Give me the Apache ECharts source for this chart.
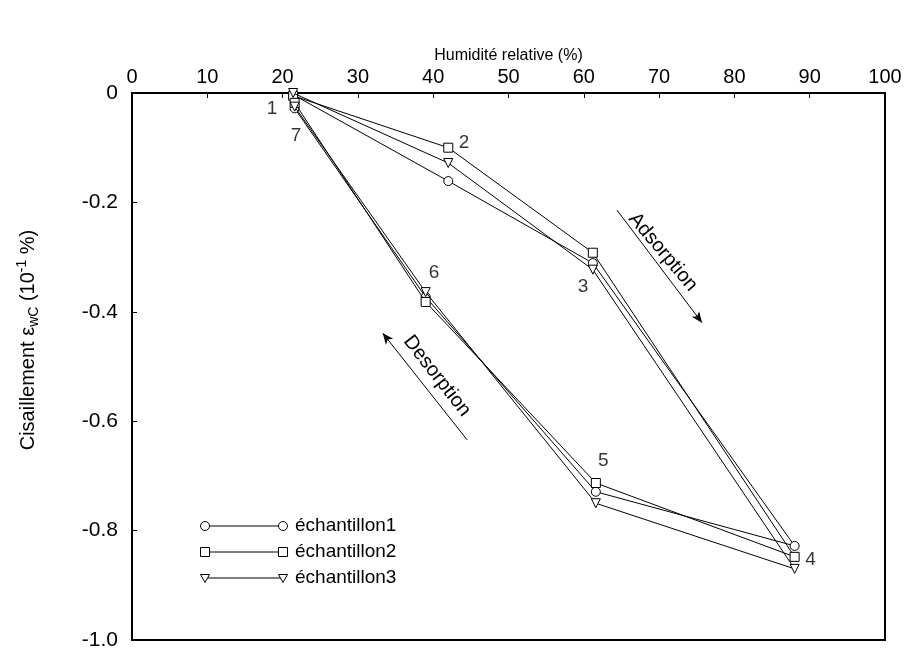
<!DOCTYPE html>
<html>
<head>
<meta charset="utf-8">
<script src="https://cdn.jsdelivr.net/npm/echarts@6/dist/echarts.min.js"></script>
<style>html,body{margin:0;padding:0;background:#fff;}#c{width:908px;height:652px;}</style>
</head>
<body>
<div id="c"></div>
<script>
// Humidity (x) for the 7 steps of the cycle
const humidity = [21.4, 42, 61.2, 88, 61.6, 39, 21.6];
// Shear strain values per sample
const echantillon1 = [-0.003, -0.161, -0.311, -0.828, -0.729, -0.373, -0.028];
const echantillon2 = [-0.005, -0.100, -0.292, -0.848, -0.713, -0.382, -0.018];
const echantillon3 = [0.000, -0.128, -0.323, -0.870, -0.750, -0.364, -0.025];
const seriesNames = ['échantillon1', 'échantillon2', 'échantillon3'];
// Step labels (text, x, y) in data units
const stepLabels = ['1', '2', '3', '4', '5', '6', '7'];
const stepLabelX = [18.6, 44.1, 59.9, 90.1, 62.6, 40.1, 21.8];
const stepLabelY = [-0.028, -0.091, -0.355, -0.853, -0.672, -0.329, -0.079];
// Arrows (data units)
const adsorptionArrow = [[64.4, -0.214], [75.7, -0.420]];
const desorptionArrow = [[44.5, -0.634], [33.3, -0.439]];
const xTicks = [0, 10, 20, 30, 40, 50, 60, 70, 80, 90, 100];
const yTicks = [0, -0.2, -0.4, -0.6, -0.8, -1.0];

const FONT = '"Liberation Sans", Arial, sans-serif';
const chart = echarts.init(document.getElementById('c'));

function pts(vals) { return vals.map((v, i) => [humidity[i], v]); }
const symbols = ['circle', 'rect', 'triangle'];
const rotates = [0, 0, 180];
const allVals = [echantillon1, echantillon2, echantillon3];

const series = allVals.map((vals, k) => ({
  name: seriesNames[k],
  type: 'line',
  data: pts(vals),
  symbol: symbols[k],
  symbolRotate: rotates[k],
  symbolSize: 9,
  showAllSymbol: true,
  lineStyle: { color: '#000', width: 1 },
  itemStyle: { color: '#fff', borderColor: '#000', borderWidth: 1 },
  z: 3 + k,
  animation: false
}));

series.push({
  type: 'line',
  data: [],
  silent: true,
  markLine: {
    silent: true,
    animation: false,
    lineStyle: { color: '#000', width: 1, type: 'solid' },
    label: { show: false },
    symbolSize: [7, 11],
    data: [
      [{ coord: adsorptionArrow[0], symbol: 'none' }, { coord: adsorptionArrow[1], symbol: 'arrow' }],
      [{ coord: desorptionArrow[0], symbol: 'none' }, { coord: desorptionArrow[1], symbol: 'arrow' }]
    ]
  }
});

series.push({
  type: 'scatter',
  data: stepLabels.map((t, i) => ({ name: t, value: [stepLabelX[i], stepLabelY[i]] })),
  symbolSize: 0,
  silent: true,
  animation: false,
  label: {
    show: true, position: 'inside', formatter: p => p.name,
    color: '#000', fontSize: 19, fontFamily: FONT
  },
  z: 10
});

const legendRowsY = [526, 552, 578];
const legendGraphics = [];
legendRowsY.forEach((y, k) => {
  const x1 = 205, x2 = 283;
  legendGraphics.push({ type: 'line', shape: { x1, y1: y, x2, y2: y }, style: { stroke: '#000', lineWidth: 1 } });
  [x1, x2].forEach(x => {
    let el;
    if (k === 0) el = { type: 'circle', shape: { cx: x, cy: y, r: 4.5 } };
    else if (k === 1) el = { type: 'rect', shape: { x: x - 4.5, y: y - 4.5, width: 9, height: 9 } };
    else el = { type: 'polygon', shape: { points: [[x - 4.5, y - 3.5], [x + 4.5, y - 3.5], [x, y + 4.5]] } };
    el.style = { fill: '#fff', stroke: '#000', lineWidth: 1 };
    el.z = 20;
    legendGraphics.push(el);
  });
  legendGraphics.push({
    type: 'text', x: 295, y: y, z: 20,
    style: { text: seriesNames[k], font: '19px ' + FONT, fill: '#000', verticalAlign: 'middle', textAlign: 'left' }
  });
});

chart.setOption({
  animation: false,
  backgroundColor: '#fff',
  grid: { left: 132, right: 23, top: 93, bottom: 12, show: true, borderColor: '#000', borderWidth: 2, backgroundColor: 'transparent' },
  xAxis: {
    type: 'value', position: 'top', min: 0, max: 100, interval: 10,
    name: 'Humidité relative (%)', nameLocation: 'middle', nameGap: 29, nameMoveOverlap: false,
    nameTextStyle: { fontSize: 16, fontFamily: FONT, color: '#000' },
    axisLine: { show: true, lineStyle: { color: '#000', width: 2 } },
    axisTick: { show: true, inside: true, length: 5, lineStyle: { color: '#000' } },
    axisLabel: { fontSize: 20, fontFamily: FONT, color: '#000', margin: 6,
      formatter: v => xTicks.includes(v) ? String(v) : '' },
    splitLine: { show: false }
  },
  yAxis: {
    type: 'value', min: -1.0, max: 0, interval: 0.2,
    axisLine: { show: true, lineStyle: { color: '#000', width: 2 } },
    axisTick: { show: true, inside: true, length: 5, lineStyle: { color: '#000' } },
    axisLabel: { fontSize: 21, fontFamily: FONT, color: '#000', margin: 14,
      formatter: v => { const t = yTicks.find(a => Math.abs(a - v) < 1e-6); return t === undefined ? '' : (Math.abs(t) < 1e-9 ? '0' : t.toFixed(1)); } },
    splitLine: { show: false }
  },
  graphic: [
    {
      type: 'text', x: 28, y: 340, rotation: Math.PI / 2,
      style: {
        text: 'Cisaillement ε{sub|wC} (10{sup|-1} %)',
        font: '20px ' + FONT, fill: '#000', textAlign: 'center', verticalAlign: 'middle',
        rich: {
          sub: { fontSize: 14, fontFamily: FONT, padding: [12, 0, 0, 0] },
          sup: { fontSize: 14, fontFamily: FONT, padding: [0, 0, 12, 0] }
        }
      }
    },
    {
      type: 'text', x: 663, y: 252, rotation: -50 * Math.PI / 180,
      style: { text: 'Adsorption', font: '20px ' + FONT, fill: '#000', textAlign: 'center', verticalAlign: 'middle' }
    },
    {
      type: 'text', x: 437, y: 376, rotation: -52 * Math.PI / 180,
      style: { text: 'Desorption', font: '20px ' + FONT, fill: '#000', textAlign: 'center', verticalAlign: 'middle' }
    }
  ].concat(legendGraphics),
  series: series
});
</script>
</body>
</html>
